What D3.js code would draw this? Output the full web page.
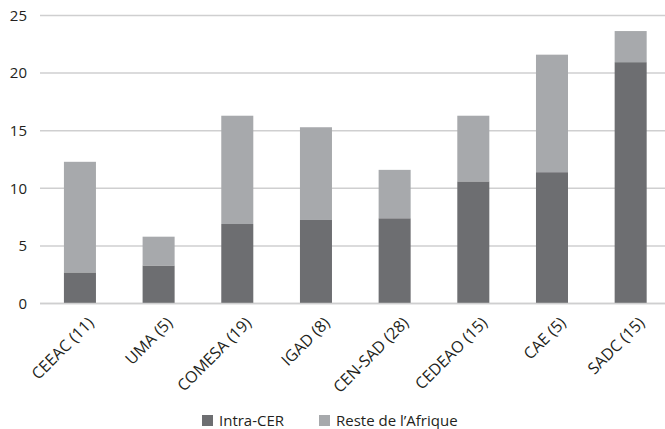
<!DOCTYPE html>
<html><head><meta charset="utf-8">
<script src="https://cdn.jsdelivr.net/npm/d3@7"></script>
<style>body{margin:0;background:#fff;} svg{display:block;font-family:"Open Sans",sans-serif;}</style>
</head><body>
<script>
const categories = ["CEEAC (11)","UMA (5)","COMESA (19)","IGAD (8)","CEN-SAD (28)","CEDEAO (15)","CAE (5)","SADC (15)"];
const intraCER = [2.7, 3.3, 6.9, 7.25, 7.4, 10.6, 11.4, 20.95];
const resteAfrique = [9.6, 2.5, 9.4, 8.05, 4.2, 5.7, 10.2, 2.7];
const seriesNames = ["Intra-CER","Reste de l\u2019Afrique"];
const yTicks = [0,5,10,15,20,25];
const colors = ["#6d6e71","#a7a9ac"];

const W=665,H=429;
const svg=d3.select("body").append("svg").attr("width",W).attr("height",H);
const x=d3.scaleBand().domain(categories).range([40.6,670]).padding(0);
const y=d3.scaleLinear().domain([0,25]).range([303.5,15.5]);
const barW = x.bandwidth()*0.407;
const fs = 15;

svg.append("g").selectAll("line").data(yTicks).join("line")
  .attr("x1",40).attr("x2",665).attr("y1",d=>y(d)).attr("y2",d=>y(d))
  .attr("stroke","#cfcfd0").attr("stroke-width",1.5);

svg.append("g").selectAll("text").data(yTicks).join("text")
  .attr("x",27).attr("y",d=>y(d)).attr("dy","0.35em").attr("text-anchor","end")
  .attr("font-size",fs).attr("fill","#231f20").text(d=>d);

const data = categories.map((c,i)=>({cat:c, a:intraCER[i], b:resteAfrique[i]}));
const stack = d3.stack().keys(["a","b"])(data);
svg.append("g").selectAll("g").data(stack).join("g").attr("fill",(d,i)=>colors[i])
  .selectAll("rect").data(d=>d).join("rect")
  .attr("x",d=>x(d.data.cat)+x.bandwidth()/2-barW/2).attr("width",barW)
  .attr("y",d=>y(d[1])).attr("height",d=>y(d[0])-y(d[1]));

svg.append("line").attr("x1",40).attr("x2",665).attr("y1",y(0)).attr("y2",y(0))
  .attr("stroke","#cfcfd0").attr("stroke-width",1.5);

svg.append("g").selectAll("text").data(categories).join("text")
  .attr("transform",d=>`translate(${x(d)+x.bandwidth()/2+11},${320}) rotate(-45)`)
  .attr("text-anchor","end").attr("dy","0.35em").attr("font-size",16).attr("fill","#231f20").text(d=>d);

const legX=[202,319];
const lg=svg.append("g").selectAll("g").data(seriesNames).join("g")
  .attr("transform",(d,i)=>`translate(${legX[i]},0)`);
lg.append("rect").attr("x",0).attr("y",415).attr("width",11).attr("height",11).attr("fill",(d,i)=>colors[i]);
lg.append("text").attr("x",17).attr("y",426).attr("font-size",fs).attr("fill","#231f20").text(d=>d);
</script>
</body></html>
